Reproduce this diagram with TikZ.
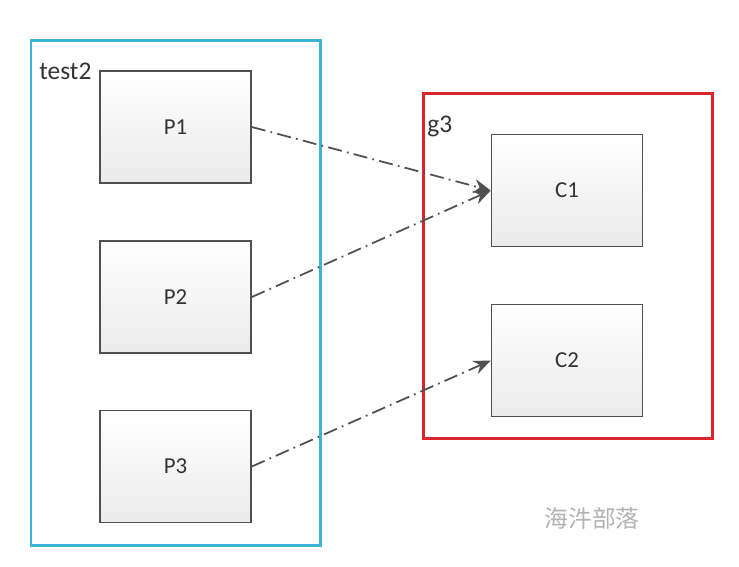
\documentclass[tikz,border=0pt]{standalone}
\usepackage{fontspec}
\setmainfont{Carlito}
\newfontfamily\cjk{Noto Sans CJK SC}
\usetikzlibrary{arrows.meta, positioning}
\definecolor{grpblue}{HTML}{3CB4D6}
\definecolor{grpred}{HTML}{D8262C}
\definecolor{boxline}{HTML}{505050}
\tikzset{
  grp/.style   ={line width=1.7pt},
  unit/.style  ={draw=boxline, line width=0.9pt, minimum width=151*0.02cm, minimum height=112*0.02cm,
                 inner sep=0pt, top color=white, bottom color=black!8, font=\fontsize{13}{15}\selectfont, text=black!80},
  glbl/.style  ={font=\fontsize{14.5}{17}\selectfont, text=black!80, anchor=west, inner sep=0pt},
  link/.style  ={-{Stealth[length=3.4mm, width=2.8mm]}, line width=1pt, boxline,
                 dash pattern=on 8pt off 3pt on 1pt off 3pt},
  wmark/.style ={font=\cjk\fontsize{13.5}{16}\selectfont, text=black!30},
}
\begin{document}
\begin{tikzpicture}[x=0.02cm, y=-0.02cm]
  \useasboundingbox (0,0) rectangle (739,566);
  % groups
  \draw[grp, grpblue] (31,40) rectangle (320,545);
  \draw[grp, grpred]  (423,93) rectangle (712,438);
  \node[glbl] (ltest) at (39,71)  {test2};
  \node[glbl] (lg) at (427,126) {g3};
  % producers
  \node[unit] (p1) at (175.5,127) {P1};
  \node[unit] (p2) at (175.5,297) {P2};
  \node[unit] (p3) at (175.5,466.5) {P3};
  % consumers
  \node[unit] (c1) at (567,190.5) {C1};
  \node[unit] (c2) at (567,360.5) {C2};
  \draw[link] (p1.east) -- (c1.west);
  \draw[link] (p2.east) -- (c1.west);
  \draw[link] (p3.east) -- (c2.west);
  \node[wmark] (wm) at (592,518) {海汼部落};
\end{tikzpicture}
\end{document}
